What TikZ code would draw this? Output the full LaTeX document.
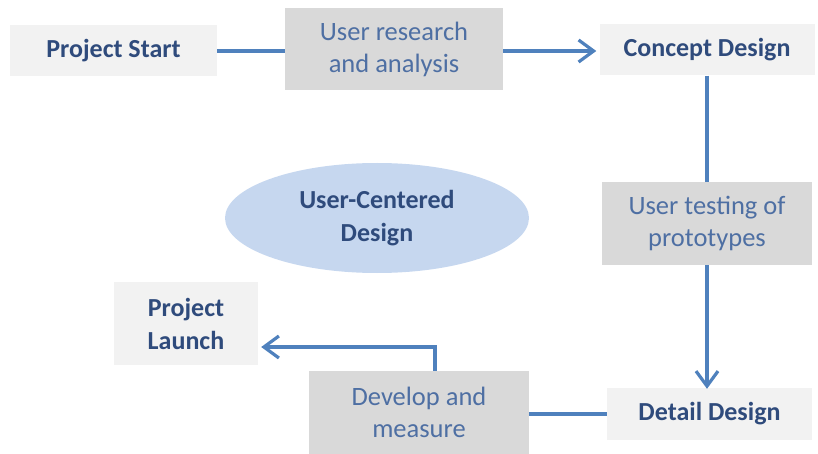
\documentclass[tikz,border=0pt]{standalone}
\usepackage{fontspec}
\setmainfont{Carlito}
\usetikzlibrary{arrows.meta,shapes.geometric}
\definecolor{phase}{HTML}{F2F2F2}
\definecolor{activity}{HTML}{D9D9D9}
\definecolor{navy}{HTML}{2F4B7C}
\definecolor{steel}{HTML}{4E6FA3}
\definecolor{flow}{HTML}{4F81BD}
\definecolor{bubble}{HTML}{C6D7EF}

\begin{document}
\begin{tikzpicture}[x=1pt,y=-1pt,
    phasebox/.style={fill=phase,text=navy,align=center,inner sep=0pt,
        font=\fontsize{26}{33}\selectfont\bfseries},
    actbox/.style={fill=activity,text=steel,align=center,inner sep=0pt,
        font=\fontsize{26.5}{32}\selectfont},
    flowline/.style={draw=flow,line width=3.2pt},
    flowarrow/.style={flowline,-{Straight Barb[length=15pt,width=22pt]}}]
\useasboundingbox (0,0) rectangle (818,454);
% boxes, left to right, top to bottom
\node[phasebox,minimum width=207,minimum height=51] (start)    at (113.5,51)  {Project Start};
\node[actbox,minimum width=218,minimum height=82]   (research) at (394,49)    {User research\\and analysis};
\node[phasebox,minimum width=215,minimum height=51] (concept)  at (707,50)    {Concept Design};
\node[actbox,minimum width=210,minimum height=83]   (testing)  at (707,223.5) {User testing of\\prototypes};
\node[phasebox,minimum width=205,minimum height=52] (detail)   at (709.5,414) {Detail Design};
\node[actbox,minimum width=220,minimum height=83]   (develop)  at (419,412.5) {Develop and\\measure};
\node[phasebox,minimum width=144,minimum height=83] (launch)   at (186,323.5) {Project\\Launch};
\node[ellipse,fill=bubble,text=navy,align=center,inner sep=0pt,
      minimum width=304,minimum height=110,
      font=\fontsize{26}{33}\selectfont\bfseries] (ucd) at (377,218) {User-Centered\\Design};
% connectors
\coordinate (bend) at (435,347);
\draw[flowline]  (start.east) -- (research.west |- start.east);
\draw[flowarrow] (research.east |- start.east) -- ([xshift=-3pt]concept.west |- start.east);
\draw[flowline]  (concept.south) -- (testing.north);
\draw[flowarrow] (testing.south) -- ([yshift=-1pt]testing.south |- detail.north);
\draw[flowline]  (detail.west) -- (develop.east |- detail.west);
\draw[flowarrow] (bend |- develop.north) -- (bend) -- ([xshift=3pt]bend -| launch.east);
\end{tikzpicture}
\end{document}
